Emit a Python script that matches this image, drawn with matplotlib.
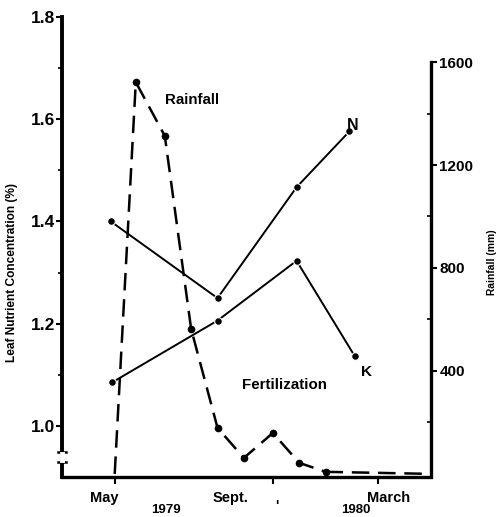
import matplotlib
matplotlib.use("Agg")
import matplotlib.pyplot as plt
import numpy as np

# months counted from Jan 1979 (May 1979 = 5, March 1980 = 15)
n_month = [4.85, 8.9, 11.9, 13.9]
n_vals = [1.40, 1.25, 1.467, 1.576]
k_month = [4.9, 8.9, 11.9, 14.1]
k_vals = [1.085, 1.206, 1.323, 1.137]
rain_month = [5.0, 5.8, 6.9, 7.9, 8.9, 9.9, 11.0, 12.0, 13.0]
rain_vals = [0, 1522, 1313, 563, 179, 62, 159, 43, 8]

xtick_pos = [5, 11, 15]
month_labels = ["May", "Sept.", "March"]
month_label_x = [4.6, 9.4, 15.4]
year_labels = ["1979", "1980"]
year_label_x = [6.95, 14.15]
left_ticks = [1.0, 1.2, 1.4, 1.6, 1.8]
right_ticks = [400, 800, 1200, 1600]

plt.rcParams['font.family'] = ['Liberation Sans', 'DejaVu Sans']
plt.rcParams['font.weight'] = 'bold'

fig = plt.figure(figsize=(5.0, 5.17), dpi=100)
ax = fig.add_axes([0.124, 0.0774, 0.738, 0.8897])
ax2 = ax.twinx()

ax.set_xlim(3, 17)
ax.set_ylim(0.9, 1.8)
ax2.set_ylim(-12, 1775)

# N and K lines
ax.plot(n_month, n_vals, color='black', lw=1.4, marker='o', ms=5.5,
        mec='white', mew=0.8, mfc='black', zorder=3)
ax.plot(k_month, k_vals, color='black', lw=1.4, marker='o', ms=5.5,
        mec='white', mew=0.8, mfc='black', zorder=3)

# rainfall dashed
ax2.plot(rain_month, rain_vals, color='black', lw=1.8, ls=(0, (7, 3.5)),
         marker='o', ms=4.5, mfc='black', mec='black',
         markevery=list(range(1, len(rain_month))))
ax2.plot([rain_month[-1], 17], [rain_vals[-1], 0], color='black', lw=1.8,
         ls=(0, (7, 3.5)))

# spines
ax.spines['top'].set_visible(False)
ax2.spines['top'].set_visible(False)
ax.spines['right'].set_visible(False)
ax2.spines['left'].set_visible(False)
ax2.spines['bottom'].set_visible(False)
ax.spines['left'].set_linewidth(2.8)
ax.spines['bottom'].set_linewidth(2.4)
ax2.spines['right'].set_linewidth(2.4)
ax2.spines['right'].set_bounds(0, 1600)

ax.set_xticks(xtick_pos)
ax.set_xticklabels([])
ax.tick_params(axis='x', direction='out', length=5, width=1.5)

ax.set_yticks(left_ticks)
ax.set_yticklabels(["1.0", "1.2", "1.4", "1.6", "1.8"], fontsize=12.5,
                   fontweight='bold')
ax.set_yticks([1.1, 1.3, 1.5, 1.7], minor=True)
ax.tick_params(axis='y', which='major', direction='out', length=4, width=1.5, pad=1)
ax.tick_params(axis='y', which='minor', direction='out', length=3, width=1.2)

ax2.set_yticks(right_ticks)
ax2.set_yticklabels(["400", "800", "1200", "1600"], fontsize=11, fontweight='bold')
ax2.set_yticks([200, 600, 1000, 1400], minor=True)
ax2.tick_params(axis='y', which='major', direction='out', length=4, width=1.5, pad=2)
ax2.tick_params(axis='y', which='minor', direction='in', length=3, width=1.2)

# month and year labels below axis
xt = ax.get_xaxis_transform()
for lab, xm in zip(month_labels, month_label_x):
    ax.text(xm, -0.045, lab, transform=xt, fontsize=10.5, fontweight='bold',
            ha='center', va='center', clip_on=False)
for lab, xm in zip(year_labels, year_label_x):
    ax.text(xm, -0.071, lab, transform=xt, fontsize=9.5, fontweight='bold',
            ha='center', va='center', clip_on=False)
ax.text(11.15, -0.064, "'", transform=xt, fontsize=10, fontweight='bold',
        ha='center', va='center', clip_on=False)

# axis break marks
for yb in [0.948, 0.93]:
    ax.plot([-0.012, 0.012], [yb, yb], transform=ax.get_yaxis_transform(),
            color='black', lw=1.8, clip_on=False)
ax.plot([0, 0], [0.934, 0.944], transform=ax.get_yaxis_transform(),
        color='white', lw=3.5, clip_on=False, zorder=5)

# axis titles
fig.text(0.024, 0.472, "Leaf Nutrient Concentration (%)", rotation=90,
         fontsize=8.6, fontweight='bold', ha='center', va='center')
fig.text(0.984, 0.493, "Rainfall (mm)", rotation=90, fontsize=7.4,
         fontweight='bold', ha='center', va='center')

ax.text(6.9, 1.638, "Rainfall", fontsize=10.8, fontweight='bold', ha='left',
        va='center')
ax.text(13.8, 1.587, "N", fontsize=11.5, fontweight='bold', ha='left', va='center')
ax.text(14.35, 1.105, "K", fontsize=11, fontweight='bold', ha='left', va='center')
ax.text(11.43, 1.08, "Fertilization", fontsize=10.9, fontweight='bold',
        ha='center', va='center')

fig.savefig("out.png", dpi=100)
